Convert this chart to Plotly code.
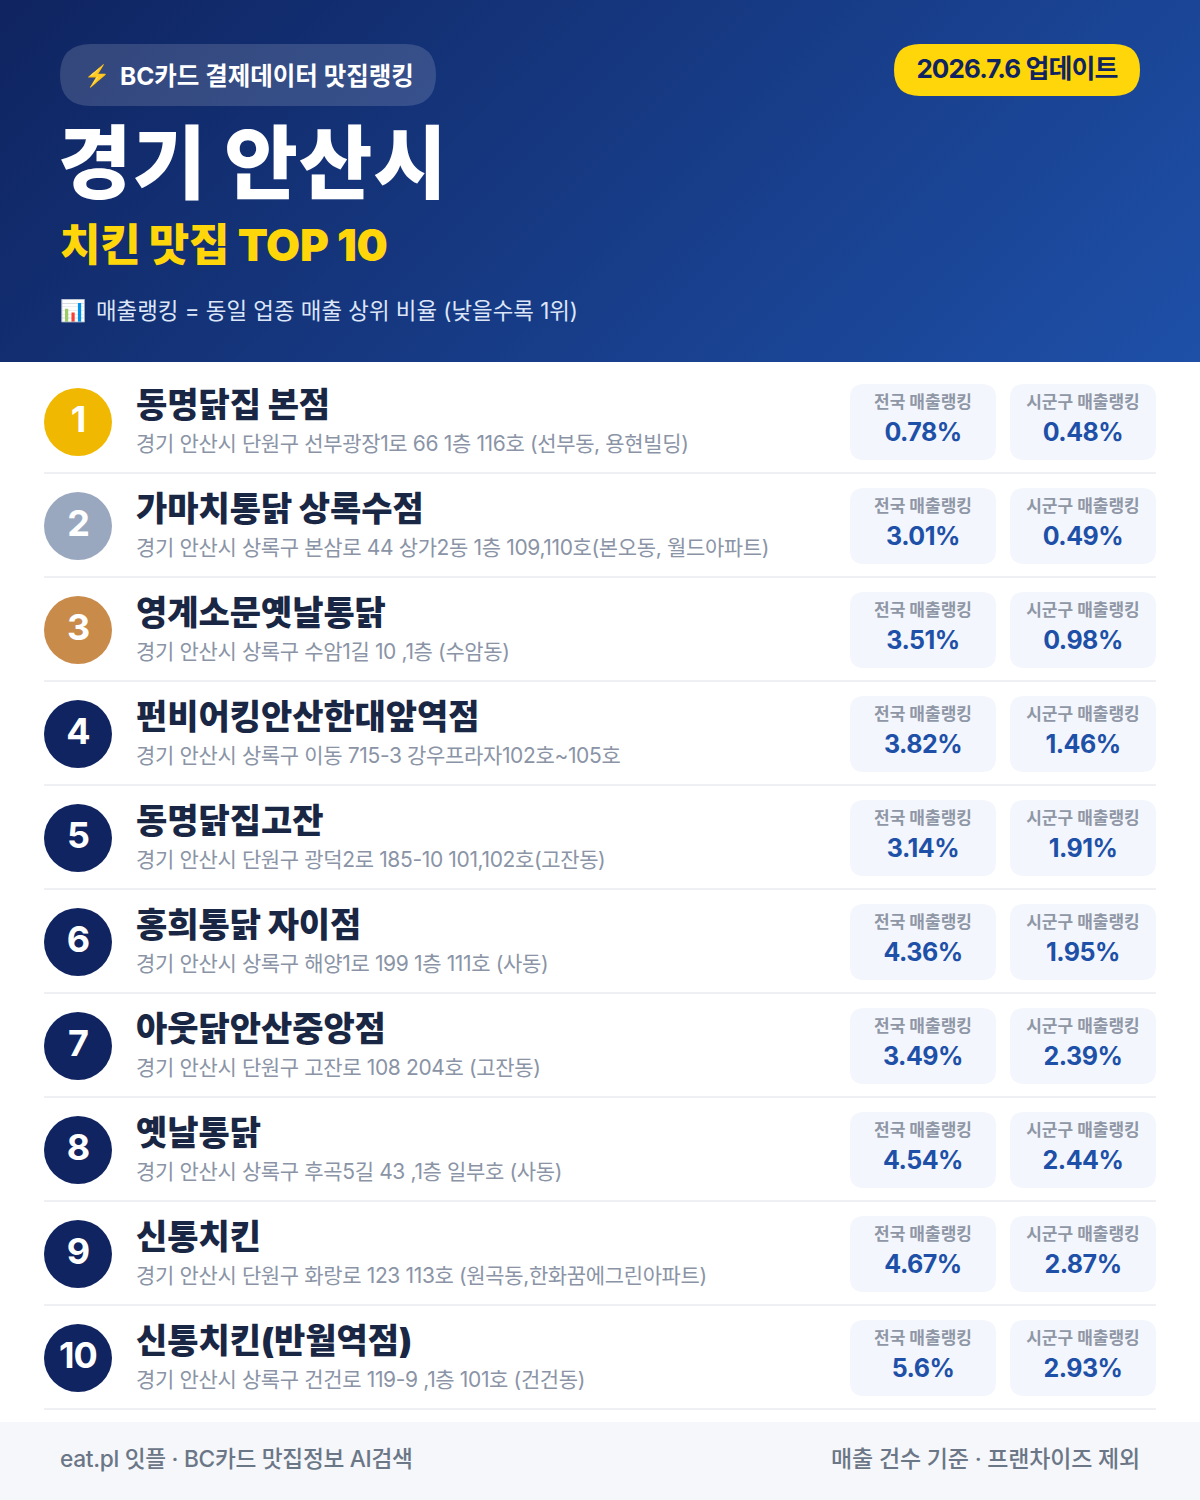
import base64
import json
import plotly.graph_objects as go

# ---- data ----
ranks = [1, 2, 3, 4, 5, 6, 7, 8, 9, 10]
names = ["동명닭집 본점", "가마치통닭 상록수점", "영계소문옛날통닭", "펀비어킹안산한대앞역점", "동명닭집고잔",
         "홍희통닭 자이점", "아웃닭안산중앙점", "옛날통닭", "신통치킨", "신통치킨(반월역점)"]
addresses = ["경기 안산시 단원구 선부광장1로 66 1층 116호 (선부동, 용현빌딩)",
             "경기 안산시 상록구 본삼로 44 상가2동 1층 109,110호(본오동, 월드아파트)",
             "경기 안산시 상록구 수암1길 10 ,1층 (수암동)",
             "경기 안산시 상록구 이동 715-3 강우프라자102호~105호",
             "경기 안산시 단원구 광덕2로 185-10 101,102호(고잔동)",
             "경기 안산시 상록구 해양1로 199 1층 111호 (사동)",
             "경기 안산시 단원구 고잔로 108 204호 (고잔동)",
             "경기 안산시 상록구 후곡5길 43 ,1층 일부호 (사동)",
             "경기 안산시 단원구 화랑로 123 113호 (원곡동,한화꿈에그린아파트)",
             "경기 안산시 상록구 건건로 119-9 ,1층 101호 (건건동)"]
national = ["0.78%", "3.01%", "3.51%", "3.82%", "3.14%", "4.36%", "3.49%", "4.54%", "4.67%", "5.6%"]
district = ["0.48%", "0.49%", "0.98%", "1.46%", "1.91%", "1.95%", "2.39%", "2.44%", "2.87%", "2.93%"]
rank_colors = ["#F0B800", "#9AA8BF", "#C98B4A"] + ["#0F2460"] * 7
label_national = "전국 매출랭킹"
label_district = "시군구 매출랭킹"
badge_emoji = "⚡"
badge_text = "BC카드 결제데이터 맛집랭킹"
date_text = "2026.7.6 업데이트"
title_text = "경기 안산시"
subtitle_text = "치킨 맛집 TOP 10"
desc_emoji = "📊"
desc_text = "매출랭킹 = 동일 업종 매출 상위 비율 (낮을수록 1위)"
footer_left = "eat.pl 잇플 · BC카드 맛집정보 AI검색"
footer_right = "매출 건수 기준 · 프랜차이즈 제외"

FONT = "Inter, Noto Sans CJK KR, Noto Color Emoji, sans-serif"
W, H = 1200, 1500
PITCH = 104
# tracking (px) per font size, applied to the rendered text
TRACKING = {"21px": -0.36, "34px": -0.05, "44px": -0.3, "26px": -0.9, "23px": -0.2, "22.7px": -0.3,
            "36px": -1, "80px": 1, "25px": -0.5}


def rrect(x0, y0, x1, y1, r):
    return (f"M{x0+r},{y0} L{x1-r},{y0} Q{x1},{y0} {x1},{y0+r} L{x1},{y1-r} Q{x1},{y1} {x1-r},{y1} "
            f"L{x0+r},{y1} Q{x0},{y1} {x0},{y1-r} L{x0},{y0+r} Q{x0},{y0} {x0+r},{y0} Z")


svg = ('<svg xmlns="http://www.w3.org/2000/svg" width="1200" height="362">'
       '<defs><linearGradient id="g" gradientUnits="userSpaceOnUse" x1="209.5" y1="-209.5" x2="990.5" y2="571.5">'
       '<stop offset="0" stop-color="#0F2460"/><stop offset="1" stop-color="#1E50A8"/>'
       '</linearGradient></defs><rect width="1200" height="362" fill="url(#g)"/></svg>')
header_uri = "data:image/svg+xml;base64," + base64.b64encode(svg.encode()).decode()

shapes = [
    dict(type="rect", x0=0, x1=W, y0=1422, y1=H, fillcolor="#F5F7FB", line_width=0, layer="below"),
    dict(type="path", path=rrect(60, 44, 436, 106, 31), fillcolor="rgba(255,255,255,0.15)", line_width=0, layer="between"),
    dict(type="path", path=rrect(894, 44, 1140, 96, 26), fillcolor="#FFD60A", line_width=0, layer="between"),
]
row_y = [422 + PITCH * i for i in range(len(ranks))]
for y in row_y:
    shapes.append(dict(type="line", x0=44, x1=1156, y0=y + 51, y1=y + 51,
                       line=dict(color="#EEF0F4", width=2), layer="below"))
    shapes.append(dict(type="path", path=rrect(850, y - 38, 996, y + 38, 14),
                       fillcolor="#F3F6FC", line_width=0, layer="below"))
    shapes.append(dict(type="path", path=rrect(1010, y - 38, 1156, y + 38, 14),
                       fillcolor="#F3F6FC", line_width=0, layer="below"))

fig = go.Figure()


def text(x, y, t, size, color, pos="middle right", weight=400):
    fig.add_trace(go.Scatter(
        x=x if isinstance(x, list) else [x], y=y if isinstance(y, list) else [y],
        text=t if isinstance(t, list) else [t], mode="text", textposition=pos,
        textfont=dict(family=FONT, size=size, color=color, weight=weight),
        hoverinfo="skip", showlegend=False))


fig.add_trace(go.Scatter(
    x=[78] * len(ranks), y=row_y, mode="markers",
    marker=dict(size=68, color=rank_colors, line_width=0),
    hoverinfo="skip", showlegend=False))
text([78] * 10, [y + 1 for y in row_y], [str(r) for r in ranks], 36, "white", "middle center", 700)

text([136] * 10, [y - 14 for y in row_y], names, 34, "#1A2744", weight=900)
text([136] * 10, [y + 24 for y in row_y], addresses, 21, "#8A94A6", weight=400)
text([923] * 10, [y - 18 for y in row_y], [label_national] * 10, 17, "#8F97A6", "middle center", 700)
text([1083] * 10, [y - 18 for y in row_y], [label_district] * 10, 17, "#8F97A6", "middle center", 700)
text([923] * 10, [y + 13 for y in row_y], national, 25, "#1E50A8", "middle center", 700)
text([1083] * 10, [y + 13 for y in row_y], district, 25, "#1E50A8", "middle center", 700)

text(84, 78, badge_emoji, 21, "white", weight=700)
text(120, 79, badge_text, 24.5, "white", weight=700)
text(1017, 71, date_text, 26, "#0F2460", "middle center", 700)
text(58, 172, title_text, 80, "white", weight=900)
text(60, 250, subtitle_text, 44, "#FFD60A", weight=900)
text(60, 313, desc_emoji, 21, "white", weight=400)
text(96, 313, desc_text, 22.4, "#DCE6F8", weight=400)
text(60, 1461, footer_left, 22.7, "#6B7686", weight=500)
text(1140, 1461, footer_right, 23, "#6B7686", "middle left", 500)

fig.update_layout(
    width=W, height=H, margin=dict(l=0, r=0, t=0, b=0),
    paper_bgcolor="white", plot_bgcolor="white", showlegend=False,
    xaxis=dict(range=[0, W], visible=False, fixedrange=True),
    yaxis=dict(range=[H, 0], visible=False, fixedrange=True),
    shapes=shapes,
    images=[dict(source=header_uri, xref="x", yref="y", x=0, y=0, sizex=W, sizey=362,
                 sizing="stretch", layer="below", xanchor="left", yanchor="top")],
)
post = ("document.body.style.margin='0';document.documentElement.style.overflow='hidden';"
        "var T=" + json.dumps(TRACKING) + ";"
        "document.querySelectorAll('.textpoint text').forEach(function(e){"
        "var s=T[e.style.fontSize];if(s!==undefined){e.style.letterSpacing=s+'px';}});")
fig.write_html("out.html", config=dict(displayModeBar=False), post_script=post)
